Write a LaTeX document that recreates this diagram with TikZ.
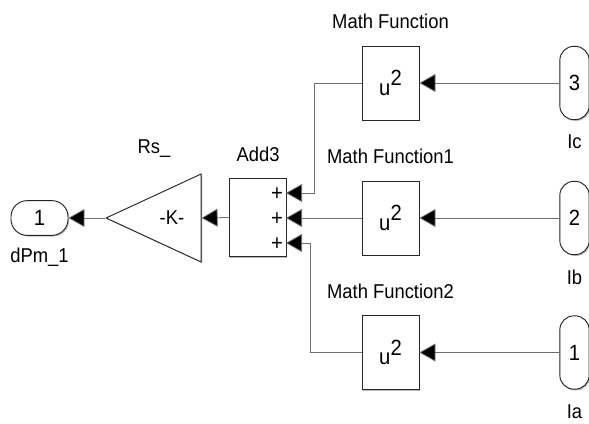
\documentclass[tikz,border=0pt]{standalone}
\usepackage{fontspec}
\setmainfont[FakeStretch=0.92]{Liberation Sans}
\usepackage{xcolor}
\usetikzlibrary{arrows.meta,shadows,shapes.geometric}
\definecolor{fil}{RGB}{110,110,110}
\definecolor{ombre}{RGB}{170,170,170}
\tikzset{
  bloc/.style={draw=black!85, fill=white, line width=0.7pt, inner sep=0pt,
    drop shadow={shadow xshift=0.9pt, shadow yshift=-0.9pt, fill=ombre, opacity=0.8}},
  boite/.style={bloc, minimum width=42.75pt, minimum height=55.5pt},
  portd/.style={bloc, rounded corners=10.5pt, minimum width=22pt, minimum height=55pt},
  portg/.style={bloc, rounded corners=12pt, minimum width=42.75pt, minimum height=26pt},
  gain/.style={bloc, isosceles triangle, shape border rotate=180, isosceles triangle stretches,
    minimum width=66pt, minimum height=71.25pt},
  fil/.style={draw=fil, line width=0.6pt, -{Triangle[length=12pt,width=13.5pt,fill=black]}},
  legende/.style={font=\fontsize{15pt}{17pt}\selectfont},
  carre/.style={font=\fontsize{16.5pt}{18pt}\selectfont}
}
\begin{document}
\begin{tikzpicture}[x=0.75pt, y=-0.75pt, legende]
\useasboundingbox (0,0) rectangle (589,424);
% sortie et gain
\node[portg, carre] (dpm) at (39.5,218) {1};
\node[gain] (rs) at (173,218) {};
\node at (172,218) {-K-};
\node[bloc, minimum width=42.75pt, minimum height=59pt] (add) at (257.5,217.5) {};
\node at (39.5,257) {dPm\_1};
\node at (154,149) {Rs\_};
\node at (258,154) {Add3};
\foreach \s/\y in {c/193,b/218,a/243} {
  \coordinate (add\s) at (286,\y);
  \node[carre] at (277,\y+1) {+};
}
% fonctions et entrees
\foreach \nom/\y/\num/\lab/\titre in {c/83/3/Ic/Math Function,b/218/2/Ib/Math Function1,a/352.5/1/Ia/Math Function2} {
  \node[boite, carre] (mf\nom) at (390.5,\y) {u\raisebox{7pt}{2}};
  \node[portd, carre] (in\nom) at (574.5,\y) {\num};
  \node at (574.5,\y+59) {\lab};
  \node at (390.5,\y-61.5) {\titre};
  \draw[fil] (in\nom) -- (mf\nom);
}
\draw[fil] (mfc.west) -- ++(-47,0) |- (addc);
\draw[fil] (mfb.west) -- (addb);
\draw[fil] (mfa.west) -- ++(-51,0) |- (adda);
\draw[fil] (add.west) -- (rs.east);
\draw[fil] (rs.apex) -- (dpm.east);
\end{tikzpicture}
\end{document}
